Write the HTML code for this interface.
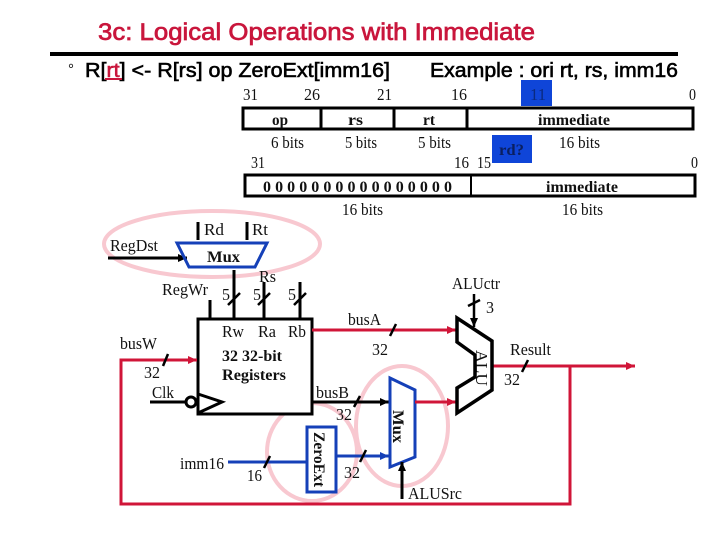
<!DOCTYPE html>
<html><head><meta charset="utf-8"><style>
html,body{margin:0;padding:0;background:#fff;width:720px;height:540px;overflow:hidden}
svg{display:block}
text{font-family:"Liberation Serif",serif;font-size:17px;fill:#111}
.b{font-weight:bold;font-size:16px}
.s{font-family:"Liberation Sans",sans-serif;font-size:20px;stroke:#000;stroke-width:.6px;fill:#000}
</style></head><body>
<svg width="720" height="540" viewBox="0 0 720 540" xmlns="http://www.w3.org/2000/svg">
<defs>
<marker id="ak" markerUnits="userSpaceOnUse" markerWidth="10" markerHeight="8" refX="9" refY="4" orient="auto"><path d="M0 0L9 4L0 8z" fill="#000"/></marker>
<marker id="ar" markerUnits="userSpaceOnUse" markerWidth="10" markerHeight="8" refX="9" refY="4" orient="auto"><path d="M0 0L9 4L0 8z" fill="#d01538"/></marker>
<marker id="ab" markerUnits="userSpaceOnUse" markerWidth="10" markerHeight="8" refX="9" refY="4" orient="auto"><path d="M0 0L9 4L0 8z" fill="#1540b8"/></marker>
</defs>
<rect width="720" height="540" fill="#fff"/>

<!-- highlights -->
<g fill="none" stroke="#f8c8d0" stroke-width="4">
<ellipse cx="212" cy="244" rx="108" ry="33"/>
<ellipse cx="312" cy="452" rx="45" ry="49"/>
<ellipse cx="402" cy="426" rx="46" ry="60"/>
</g>

<!-- title -->
<text x="98" y="40" textLength="437" lengthAdjust="spacingAndGlyphs" style="font-family:'Liberation Sans',sans-serif;font-size:24px;fill:#c9163c;stroke:#c9163c;stroke-width:.7px">3c: Logical Operations with Immediate</text>
<rect x="50" y="52" width="628" height="4" fill="#000"/>
<text x="68" y="74" style="font-family:'Liberation Sans',sans-serif;font-size:15px">°</text>
<text class="s" x="85" y="77" textLength="305" lengthAdjust="spacingAndGlyphs">R[<tspan fill="#c9163c" stroke="#c9163c">rt</tspan>] &lt;- R[rs] op ZeroExt[imm16]</text>
<rect x="105" y="78" width="17" height="2" fill="#c9163c"/>
<text class="s" x="430" y="77" textLength="248" lengthAdjust="spacingAndGlyphs">Example : ori rt, rs, imm16</text>

<!-- blue boxes -->
<rect x="521" y="80" width="31" height="26" fill="#0f45d8"/>
<rect x="492" y="135" width="40" height="28" fill="#0f45d8"/>

<!-- instr format 1 -->
<text x="243" y="100" textLength="15" lengthAdjust="spacingAndGlyphs">31</text>
<text x="304" y="100" textLength="16" lengthAdjust="spacingAndGlyphs">26</text>
<text x="377" y="100" textLength="15" lengthAdjust="spacingAndGlyphs">21</text>
<text x="451" y="100" textLength="16" lengthAdjust="spacingAndGlyphs">16</text>
<text x="530" y="100" textLength="16" lengthAdjust="spacingAndGlyphs" style="fill:#0a2a80">11</text>
<text x="689" y="100" textLength="7" lengthAdjust="spacingAndGlyphs">0</text>
<rect x="243" y="108" width="450" height="21" fill="#fff" stroke="#000" stroke-width="3"/>
<path d="M321 108V129M394 108V129M467 108V129" stroke="#000" stroke-width="3"/>
<text class="b" x="272" y="125" textLength="16" lengthAdjust="spacingAndGlyphs">op</text>
<text class="b" x="348" y="125" textLength="15" lengthAdjust="spacingAndGlyphs">rs</text>
<text class="b" x="423" y="125" textLength="12" lengthAdjust="spacingAndGlyphs">rt</text>
<text class="b" x="538" y="125" textLength="72" lengthAdjust="spacingAndGlyphs">immediate</text>
<text x="271" y="148" textLength="33" lengthAdjust="spacingAndGlyphs">6 bits</text>
<text x="345" y="148" textLength="32" lengthAdjust="spacingAndGlyphs">5 bits</text>
<text x="418" y="148" textLength="33" lengthAdjust="spacingAndGlyphs">5 bits</text>
<text x="559" y="148" textLength="41" lengthAdjust="spacingAndGlyphs">16 bits</text>
<text class="b" x="499" y="155" textLength="25" lengthAdjust="spacingAndGlyphs" style="fill:#0a1f60">rd?</text>

<!-- instr format 2 -->
<text x="251" y="168" textLength="14" lengthAdjust="spacingAndGlyphs">31</text>
<text x="454" y="168" textLength="15" lengthAdjust="spacingAndGlyphs">16</text>
<text x="477" y="168" textLength="14" lengthAdjust="spacingAndGlyphs">15</text>
<text x="691" y="168" textLength="7" lengthAdjust="spacingAndGlyphs">0</text>
<rect x="245" y="175" width="450" height="21" fill="#fff" stroke="#000" stroke-width="3"/>
<path d="M471 175V196" stroke="#000" stroke-width="2"/>
<text class="b" x="263" y="192" textLength="189">0000000000000000</text>
<text class="b" x="546" y="192" textLength="72" lengthAdjust="spacingAndGlyphs">immediate</text>
<text x="342" y="215" textLength="41" lengthAdjust="spacingAndGlyphs">16 bits</text>
<text x="562" y="215" textLength="41" lengthAdjust="spacingAndGlyphs">16 bits</text>

<!-- top mux -->
<path d="M198 222V240M247 222V240" stroke="#000" stroke-width="3"/>
<text x="204" y="235" textLength="20" lengthAdjust="spacingAndGlyphs">Rd</text>
<text x="252" y="235" textLength="16" lengthAdjust="spacingAndGlyphs">Rt</text>
<text x="110" y="251" textLength="48" lengthAdjust="spacingAndGlyphs">RegDst</text>
<line x1="108" y1="258" x2="187" y2="258" stroke="#000" stroke-width="3" marker-end="url(#ak)"/>
<polygon points="177,243 267,243 255,267 189,267" fill="none" stroke="#1540b8" stroke-width="3"/>
<text class="b" x="207" y="262" textLength="33" lengthAdjust="spacingAndGlyphs">Mux</text>

<!-- register file -->
<text x="162" y="295" textLength="46" lengthAdjust="spacingAndGlyphs">RegWr</text>
<text x="259" y="282" textLength="17" lengthAdjust="spacingAndGlyphs">Rs</text>
<path d="M210 300V319M234 270V319M264 282V319M300 282V319" stroke="#000" stroke-width="3"/>
<path d="M228 305L240 293M258 305L270 293M294 305L306 293" stroke="#000" stroke-width="2.5"/>
<text x="222" y="300" textLength="8" lengthAdjust="spacingAndGlyphs">5</text>
<text x="253" y="300" textLength="8" lengthAdjust="spacingAndGlyphs">5</text>
<text x="288" y="300" textLength="8" lengthAdjust="spacingAndGlyphs">5</text>
<rect x="198" y="319" width="114" height="95" fill="#fff" stroke="#000" stroke-width="3"/>
<text x="222" y="337" textLength="22" lengthAdjust="spacingAndGlyphs">Rw</text>
<text x="258" y="337" textLength="18" lengthAdjust="spacingAndGlyphs">Ra</text>
<text x="288" y="337" textLength="18" lengthAdjust="spacingAndGlyphs">Rb</text>
<text class="b" x="222" y="361" textLength="60" lengthAdjust="spacingAndGlyphs">32 32-bit</text>
<text class="b" x="222" y="380" textLength="64" lengthAdjust="spacingAndGlyphs">Registers</text>
<polyline points="198,394 222,402 198,413" fill="none" stroke="#000" stroke-width="3"/>
<circle cx="191" cy="402" r="5" fill="#fff" stroke="#000" stroke-width="3"/>
<line x1="150" y1="402" x2="186" y2="402" stroke="#000" stroke-width="3"/>
<text x="152" y="398" textLength="22" lengthAdjust="spacingAndGlyphs">Clk</text>

<!-- feedback / result -->
<polyline points="570,366 570,504 121,504 121,360 197,360" fill="none" stroke="#d01538" stroke-width="3" marker-end="url(#ar)"/>
<line x1="492" y1="366" x2="635" y2="366" stroke="#d01538" stroke-width="3" marker-end="url(#ar)"/>
<path d="M163 366L168 354" stroke="#000" stroke-width="2.5"/>
<text x="120" y="349" textLength="37" lengthAdjust="spacingAndGlyphs">busW</text>
<text x="144" y="378" textLength="16" lengthAdjust="spacingAndGlyphs">32</text>
<path d="M522 372L528 360" stroke="#000" stroke-width="2.5"/>
<text x="510" y="355" textLength="41" lengthAdjust="spacingAndGlyphs">Result</text>
<text x="504" y="385" textLength="16" lengthAdjust="spacingAndGlyphs">32</text>

<!-- busA -->
<line x1="312" y1="330" x2="456" y2="330" stroke="#d01538" stroke-width="3" marker-end="url(#ar)"/>
<path d="M390 336L396 324" stroke="#000" stroke-width="2.5"/>
<text x="348" y="325" textLength="33" lengthAdjust="spacingAndGlyphs">busA</text>
<text x="372" y="355" textLength="16" lengthAdjust="spacingAndGlyphs">32</text>

<!-- busB -->
<line x1="312" y1="402" x2="389" y2="402" stroke="#000" stroke-width="3" marker-end="url(#ak)"/>
<path d="M354 407L360 396" stroke="#000" stroke-width="2.5"/>
<text x="316" y="398" textLength="33" lengthAdjust="spacingAndGlyphs">busB</text>
<text x="336" y="420" textLength="16" lengthAdjust="spacingAndGlyphs">32</text>

<!-- imm / zeroext -->
<text x="180" y="469" textLength="44" lengthAdjust="spacingAndGlyphs">imm16</text>
<line x1="228" y1="462" x2="307" y2="462" stroke="#1540b8" stroke-width="3"/>
<path d="M264 468L270 456" stroke="#000" stroke-width="2.5"/>
<text x="247" y="481" textLength="15" lengthAdjust="spacingAndGlyphs">16</text>
<rect x="307" y="427" width="29" height="65" fill="#fff" stroke="#1540b8" stroke-width="3"/>
<text class="b" transform="translate(314,432) rotate(90)" textLength="55" lengthAdjust="spacingAndGlyphs">ZeroExt</text>
<line x1="336" y1="456" x2="389" y2="456" stroke="#1540b8" stroke-width="3" marker-end="url(#ab)"/>
<path d="M360 462L366 450" stroke="#000" stroke-width="2.5"/>
<text x="344" y="478" textLength="16" lengthAdjust="spacingAndGlyphs">32</text>

<!-- alu src mux -->
<polygon points="390,378 415,390 415,457 390,467" fill="#fff" stroke="#1540b8" stroke-width="3"/>
<text class="b" transform="translate(393,410) rotate(90)" textLength="33" lengthAdjust="spacingAndGlyphs">Mux</text>
<line x1="415" y1="402" x2="456" y2="402" stroke="#d01538" stroke-width="3" marker-end="url(#ar)"/>
<line x1="402" y1="499" x2="402" y2="462" stroke="#000" stroke-width="3" marker-end="url(#ak)"/>
<text x="408" y="499" textLength="54" lengthAdjust="spacingAndGlyphs">ALUSrc</text>

<!-- ALU -->
<text transform="translate(476,350) rotate(90)" textLength="36" lengthAdjust="spacingAndGlyphs">ALU</text>
<polygon points="457,318 492,341 492,390 457,413 457,388 475,377 475,355 457,342" fill="none" stroke="#000" stroke-width="3.5"/>
<text x="452" y="289" textLength="48" lengthAdjust="spacingAndGlyphs">ALUctr</text>
<line x1="474" y1="294" x2="474" y2="327" stroke="#000" stroke-width="2.5" marker-end="url(#ak)"/>
<path d="M468 306L480 300" stroke="#000" stroke-width="2.5"/>
<text x="486" y="313" textLength="8" lengthAdjust="spacingAndGlyphs">3</text>
</svg>
</body></html>
